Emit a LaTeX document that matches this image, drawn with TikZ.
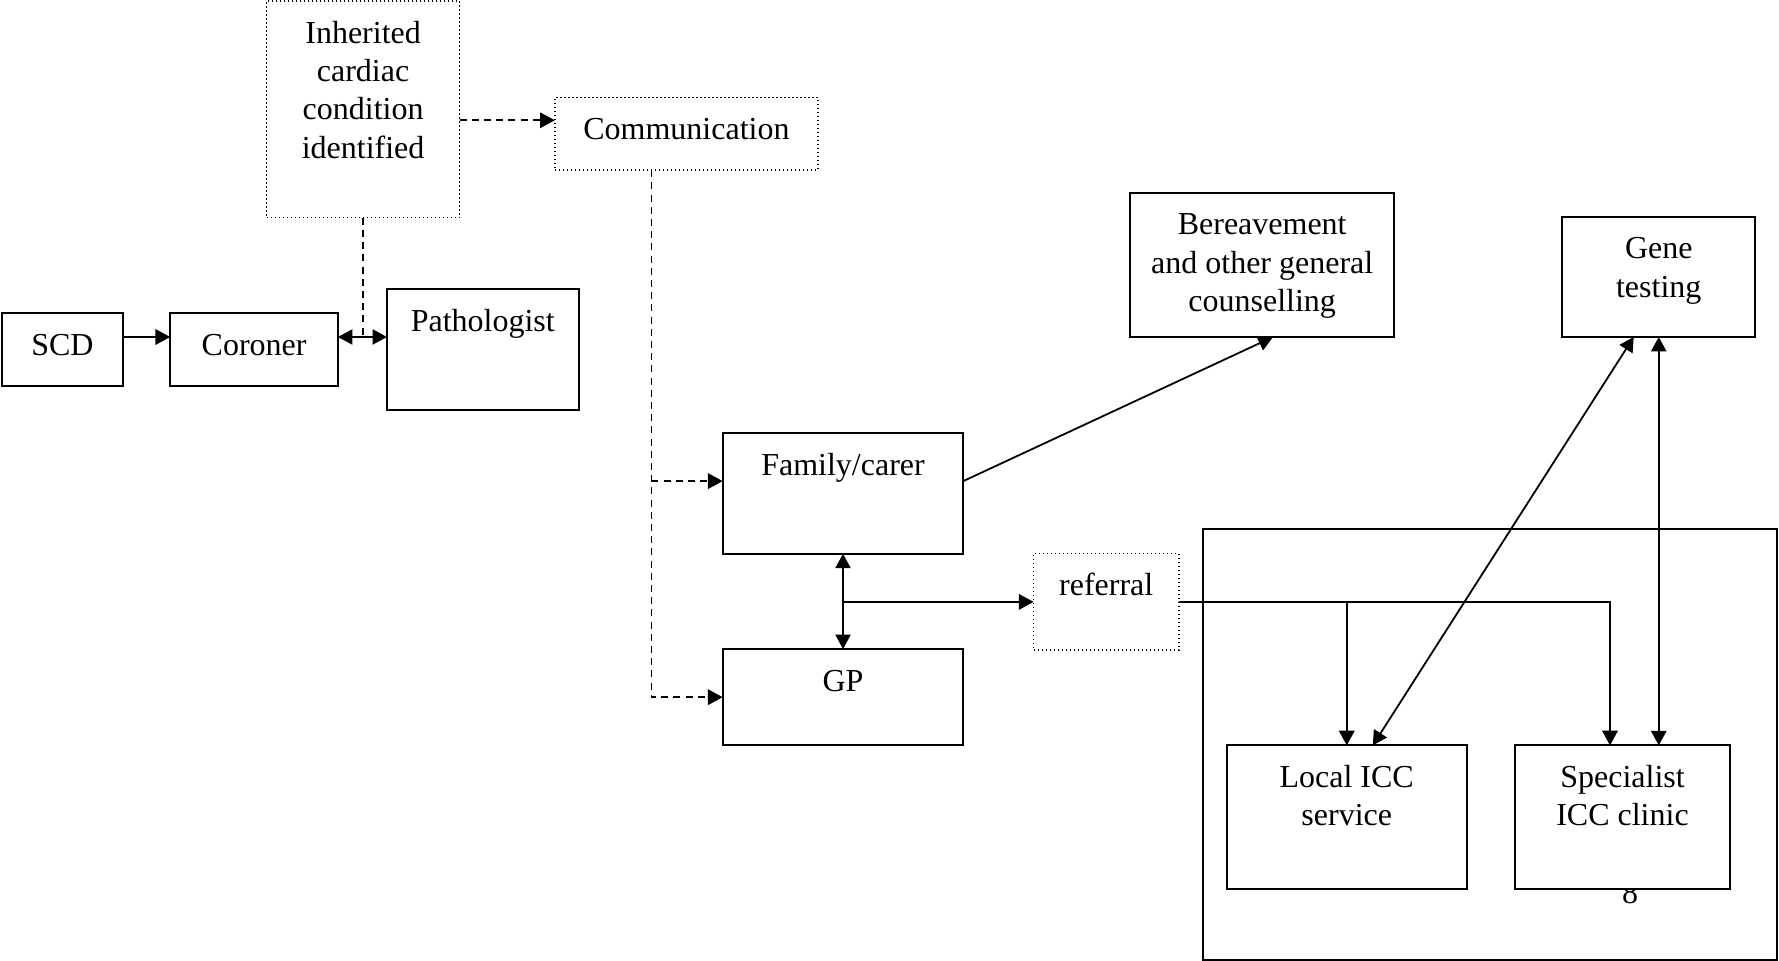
\documentclass[tikz,border=0pt]{standalone}
\usepackage{fontspec}
\setmainfont{Liberation Serif}
\usetikzlibrary{arrows.meta,calc}
\newcommand{\bxt}[3]{\parbox[c][#2][t]{#1}{\centering\vspace*{7.6pt}\strut #3}}
\tikzset{
  box/.style={draw, line width=1pt, inner sep=0pt, outer sep=0pt, fill=white, anchor=north west, font=\fontsize{16}{19.2}\selectfont},
  dotbox/.style={box, line width=0.7pt, dash pattern=on 0.7pt off 1.3pt},
  conn/.style={line width=0.9pt},
  tip/.style={-{Triangle[length=7.4pt,width=7.8pt]}},
  arr/.style={conn, tip},
  darr/.style={conn, {Triangle[length=7.2pt,width=7.6pt]}-{Triangle[length=7.2pt,width=7.6pt]}},
  dsh/.style={conn, line width=0.8pt, dash pattern=on 3.5pt off 2.6pt},
}
\begin{document}
\begin{tikzpicture}[x=0.5pt,y=-0.5pt]
\useasboundingbox (0,0) rectangle (1779,961);
% container
\node[box, minimum width=287pt, minimum height=215.6pt] (icc) at (1202.7,528.7) {};
\node[font=\fontsize{16}{19.2}\selectfont, anchor=base, inner sep=0pt] (pg) at (1630,904) {8};
% boxes
\node[dotbox] (inh) at (266.6,1) {\bxt{96.5pt}{108.4pt}{Inherited\\cardiac\\condition\\identified}};
\node[dotbox] (comm) at (554.8,97.6) {\bxt{131.6pt}{36.3pt}{Communication}};
\node[box] (scd) at (2.3,313) {\bxt{60.1pt}{36.4pt}{SCD}};
\node[box] (coroner) at (170.2,313) {\bxt{83.9pt}{36.4pt}{Coroner}};
\node[box] (path) at (386.9,289.3) {\bxt{95.9pt}{60.2pt}{Pathologist}};
\node[box] (fam) at (722.7,433.4) {\bxt{120.3pt}{60.2pt}{Family/carer}};
\node[box] (gp) at (722.7,649) {\bxt{120.3pt}{48.2pt}{GP}};
\node[dotbox] (ref) at (1033.6,553.7) {\bxt{72.6pt}{48.2pt}{referral}};
\node[box] (bere) at (1130,192.9) {\bxt{132.2pt}{72.05pt}{Bereavement\\and other general\\counselling}};
\node[box] (gene) at (1562.3,216.7) {\bxt{96.45pt}{60.15pt}{Gene\\testing}};
\node[box] (loc) at (1226.5,745.4) {\bxt{120.25pt}{72.05pt}{Local ICC\\service}};
\node[box] (sp) at (1514.7,745.4) {\bxt{107.8pt}{72.05pt}{Specialist\\ICC clinic}};
% connectors
\coordinate (cp) at ([yshift=6.2pt]coroner.east);
\draw[arr] ([yshift=6.2pt]scd.east) -- ([yshift=6.2pt]coroner.west);
\draw[dsh] (inh.south) -- (inh.south |- cp);
\draw[darr] (cp) -- (cp -| path.west);
\coordinate (ic) at ([yshift=6.8pt]comm.west);
\draw[dsh, tip] (ic -| inh.east) -- (ic);
\coordinate (cb) at ([xshift=-17.5pt]comm.south);
\coordinate (fa) at ([yshift=6.25pt]fam.west);
\draw[dsh, tip] (cb) |- (gp.west);
\draw[dsh, tip] (cb |- fa) -- (fa);
\draw[arr] ([yshift=6.25pt]fam.east) -- ([xshift=5.4pt]bere.south);
\draw[darr] (fam.south) -- (fam.south |- gp.north);
\draw[arr] (fam.south |- ref.west) -- (ref.west);
\coordinate (spin) at ([xshift=-6.25pt]sp.north);
\draw[arr] (ref.east) -| (spin);
\draw[arr] (ref.east -| loc.north) -- (loc.north);
\draw[darr] ([xshift=-12.5pt]gene.south) -- ([xshift=13pt]loc.north);
\draw[darr] (gene.south) -- (gene.south |- sp.north);
\end{tikzpicture}
\end{document}
